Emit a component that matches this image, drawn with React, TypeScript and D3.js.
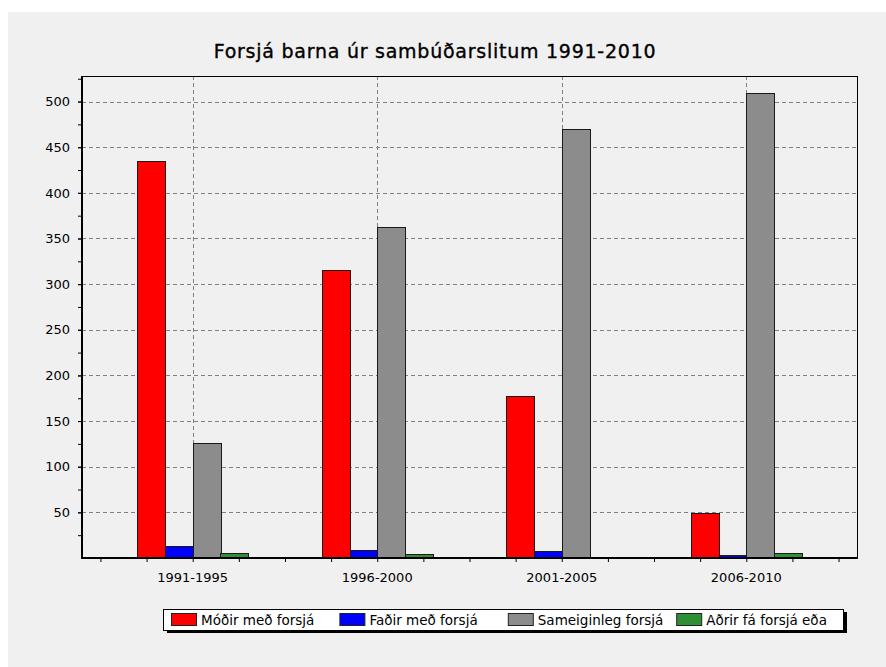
import React, { useEffect, useRef } from "react";
import * as d3 from "d3";

const categories = ["1991-1995", "1996-2000", "2001-2005", "2006-2010"];
const seriesNames = ["Móðir með forsjá", "Faðir með forsjá", "Sameiginleg forsjá", "Aðrir fá forsjá eða"];
const modir = [435, 316, 178, 49];
const fadir = [13, 9, 8, 3];
const sameiginleg = [126, 363, 470, 509];
const adrir = [5, 4, 0, 5];
const seriesColors = ["#ff0000", "#0000ff", "#8c8c8c", "#2f8f35"];
const yTicks = [50, 100, 150, 200, 250, 300, 350, 400, 450, 500];
const title = "Forsjá barna úr sambúðarslitum 1991-2010";

const W = 886, H = 667;
const plot = { left: 82, top: 76, right: 857, bottom: 558 };
const font = "'DejaVu Sans', Verdana, sans-serif";

const App = () => {
    const ref = useRef<SVGGElement>(null);
    const x = d3.scaleLinear().domain([0.4, 4.6]).range([plot.left, plot.right]);
    const y = d3.scaleLinear().domain([0, 528]).range([plot.bottom, plot.top]);
    const series = [modir, fadir, sameiginleg, adrir].map((values, i) => ({
        name: seriesNames[i], color: seriesColors[i], values
    }));
    const barW = 0.15;

    useEffect(() => {
        const g = d3.select(ref.current);
        g.selectAll("*").remove();

        // grid under bars
        const grid = g.append("g").attr("class", "grid")
            .attr("stroke", "#808080").attr("stroke-dasharray", "4,3").attr("shape-rendering", "crispEdges");
        grid.selectAll("line.h").data(yTicks).enter().append("line").attr("class", "h")
            .attr("x1", plot.left).attr("x2", plot.right)
            .attr("y1", d => Math.round(y(d)) + 0.5).attr("y2", d => Math.round(y(d)) + 0.5);
        grid.selectAll("line.v").data(categories).enter().append("line").attr("class", "v")
            .attr("y1", plot.top).attr("y2", plot.bottom)
            .attr("x1", (d, i) => Math.round(x(i + 1)) + 0.5).attr("x2", (d, i) => Math.round(x(i + 1)) + 0.5);

        // bars
        const bars = g.append("g").attr("class", "bars");
        series.forEach((s, si) => {
            bars.append("g").selectAll("rect").data(s.values).enter().append("rect")
                .attr("x", (d, i) => Math.round(x(i + 1 + (si - 2) * barW)) + 0.5)
                .attr("width", Math.round(x(barW) - x(0)))
                .attr("y", d => Math.round(y(d)) + 0.5)
                .attr("height", d => Math.max(0, Math.round(y(0) - y(d))))
                .attr("fill", s.color)
                .attr("stroke", "#1a1a1a")
                .attr("stroke-width", 1)
                .style("display", d => d > 0 ? null : "none");
        });

        // y axis ticks
        const yMinor = g.append("g").attr("transform", `translate(${plot.left},0)`)
            .call(d3.axisLeft(y).tickValues(d3.range(25, 528, 25)).tickSize(4).tickFormat(() => ""));
        yMinor.select(".domain").remove();
        const yAxis = g.append("g").attr("transform", `translate(${plot.left},0)`)
            .call(d3.axisLeft(y).tickValues(yTicks).tickSize(4).tickPadding(8));
        yAxis.select(".domain").remove();
        yAxis.selectAll("text").style("font-family", font).style("font-size", "13px").attr("fill", "#000");

        // x axis ticks
        const xAxis = g.append("g").attr("transform", `translate(0,${plot.bottom})`)
            .call(d3.axisBottom(x).tickValues(d3.range(0.5, 4.51, 0.25)).tickSize(4).tickFormat(() => ""));
        xAxis.select(".domain").remove();
        g.append("g").selectAll("text").data(categories).enter().append("text")
            .attr("x", (d, i) => x(i + 1)).attr("y", 582)
            .attr("text-anchor", "middle")
            .style("font-family", font).style("font-size", "13px")
            .text(d => d);

        // frame
        const frame = g.append("g").attr("stroke", "#000").attr("shape-rendering", "crispEdges");
        frame.append("line").attr("x1", plot.left).attr("x2", plot.right).attr("y1", plot.top + 0.5).attr("y2", plot.top + 0.5);
        frame.append("line").attr("x1", plot.right + 0.5).attr("x2", plot.right + 0.5).attr("y1", plot.top).attr("y2", plot.bottom);
        frame.append("line").attr("x1", plot.left).attr("x2", plot.left).attr("y1", plot.top).attr("y2", plot.bottom + 1).attr("stroke-width", 2);
        frame.append("line").attr("x1", plot.left - 1).attr("x2", plot.right + 1).attr("y1", plot.bottom).attr("y2", plot.bottom).attr("stroke-width", 2);

        // legend
        const lg = g.append("g").attr("transform", "translate(163,609)");
        const lw = 680, lh = 21;
        lg.append("rect").attr("x", 4).attr("y", 3).attr("width", lw).attr("height", lh).attr("fill", "#000");
        lg.append("rect").attr("x", 0.5).attr("y", 0.5).attr("width", lw).attr("height", lh)
            .attr("fill", "#fff").attr("stroke", "#000");
        const item = lg.selectAll("g.item").data(series).enter().append("g").attr("class", "item")
            .attr("transform", (d, i) => `translate(${8 + i * 168.4},0)`);
        item.append("rect").attr("x", 0.5).attr("y", 4.5).attr("width", 25).attr("height", 12)
            .attr("fill", d => d.color).attr("stroke", "#222");
        item.append("text").attr("x", 30).attr("y", 15.5)
            .style("font-family", font).style("font-size", "13.5px")
            .text(d => d.name);
    }, []);

    return (
        <svg width={W} height={H} style={{ position: "absolute", left: 0, top: 0, background: "#fff" }}>
            <rect x={8} y={12} width={W - 8} height={H - 12} fill="#f0f0f0" />
            <text x={435} y={58} textAnchor="middle" stroke="#000" strokeWidth={0.35}
                style={{ fontFamily: font, fontSize: "19px", letterSpacing: "0.75px" }}>{title}</text>
            <g ref={ref} />
        </svg>
    );
};

export default App;
